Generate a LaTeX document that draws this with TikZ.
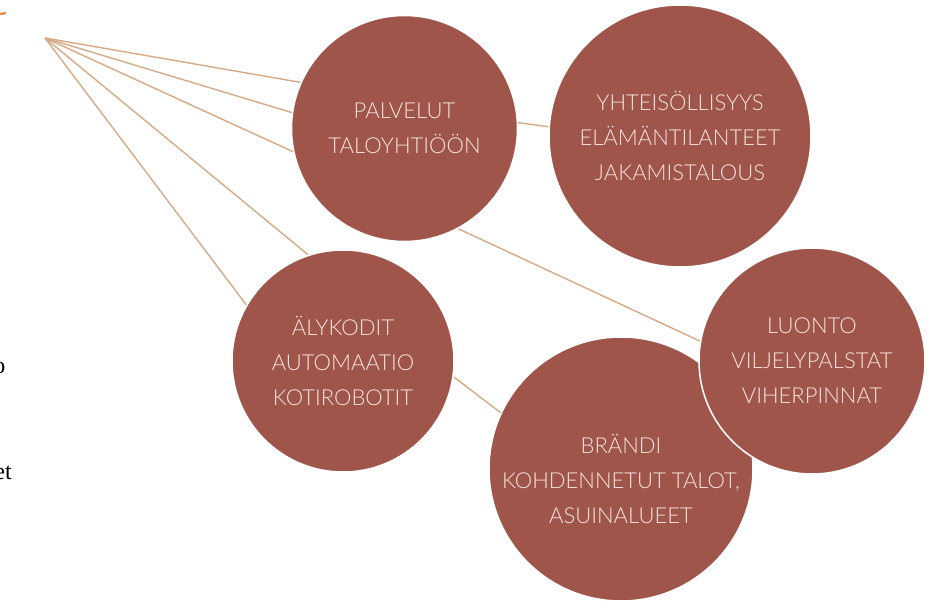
\documentclass[tikz,border=0pt]{standalone}
\usepackage{fontspec}
\setmainfont{Lato}[UprightFont=*-Light]
\newfontfamily\seriffont{Liberation Serif}
\definecolor{circfill}{HTML}{A0554A}
\definecolor{linktan}{HTML}{D6AA86}
\definecolor{circtext}{HTML}{F6E3DF}
\definecolor{markorange}{HTML}{D9925A}
\begin{document}
\begin{tikzpicture}[x=1pt,y=-1pt,
  bubble/.style={circle,fill=circfill,draw=white,line width=1.5pt,inner sep=0pt,
    align=center,text=circtext,font=\fontsize{22}{35}\selectfont},
  ghost/.style={circle,inner sep=0pt},
  link/.style={draw=linktan,line width=1.4pt},
  fragment/.style={font=\seriffont\fontsize{24}{28}\selectfont,text=black,inner sep=0pt}]
\useasboundingbox (0,0) rectangle (930,601);
\fill[white] (0,0) rectangle (930,601);
\coordinate (hub) at (45,38);
% invisible circles used as anchors for the connectors
\path (404.5,128.5) node[ghost,minimum size=226pt] (c1a) {};
\path (680,136) node[ghost,minimum size=262pt] (c2a) {};
\path (343,361) node[ghost,minimum size=222pt] (c3a) {};
\path (812,361) node[ghost,minimum size=226pt] (c4a) {};
\path (621,469) node[ghost,minimum size=264pt] (c5a) {};
% connectors
\draw[link] (hub) -- (c1a.156.9);
\draw[link] (hub) -- (c1a.172.2);
\draw[link] (hub) -- (c1a.192.9);
\draw[link] (hub) -- (c3a.108.7);
\draw[link] (hub) -- (c3a.150.3);
\draw[link] (c1a.3.4) -- (c2a.176);
\draw[link] (c1a.-62.6) -- (c4a.170.7);
\draw[link] (c3a.-8.5) -- (c5a.155);
% visible circles
\node[bubble,minimum size=226pt] (c1) at (404.5,128.5) {PALVELUT\\TALOYHTIÖÖN};
\node[bubble,minimum size=262pt] (c2) at (680,136) {YHTEISÖLLISYYS\\ELÄMÄNTILANTEET\\JAKAMISTALOUS};
\node[bubble,minimum size=222pt] (c3) at (343,361) {ÄLYKODIT\\AUTOMAATIO\\KOTIROBOTIT};
\node[bubble,minimum size=264pt] (c5) at (621,469) {\strut\\[-21pt]BRÄNDI\\KOHDENNETUT TALOT,\\ASUINALUEET};
\node[bubble,minimum size=226pt] (c4) at (812,361) {LUONTO\\VILJELYPALSTAT\\VIHERPINNAT};
% cut-off fragments at the left edge, as in the reference
\draw[markorange,line width=2.5pt] (0,14) -- (6,13);
\node[fragment,anchor=base east] (fo) at (5.5,374) {o};
\node[fragment,anchor=base east] (fet) at (12,480) {et};
\end{tikzpicture}
\end{document}
